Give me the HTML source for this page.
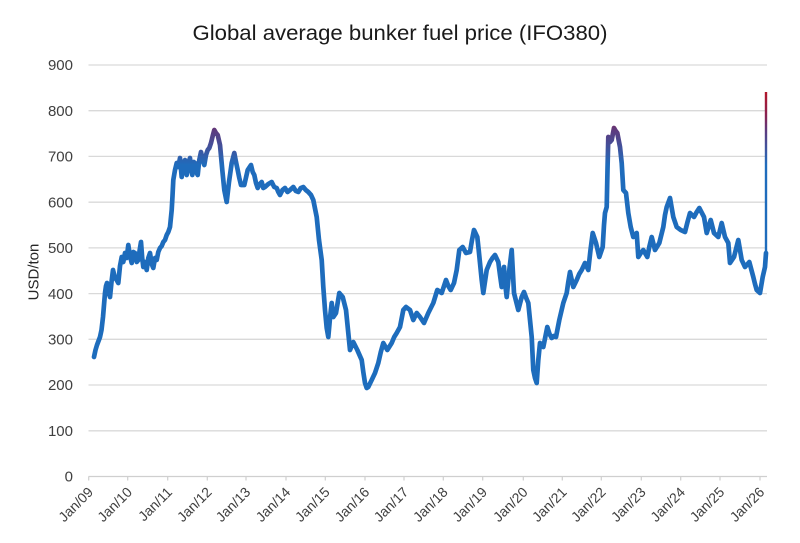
<!DOCTYPE html>
<html>
<head>
<meta charset="utf-8">
<style>
  html,body{margin:0;padding:0;background:#fff;}
  svg{display:block;}
  text{font-family:"Liberation Sans",sans-serif;}
</style>
</head>
<body>
<svg width="800" height="543" viewBox="0 0 800 543" xmlns="http://www.w3.org/2000/svg">
  <defs>
    <linearGradient id="lg" gradientUnits="userSpaceOnUse" x1="0" y1="92" x2="0" y2="476">
      <stop offset="0" stop-color="#b3162a"/>
      <stop offset="0.06" stop-color="#8a2250"/>
      <stop offset="0.10" stop-color="#5d3a7e"/>
      <stop offset="0.15" stop-color="#3d55a0"/>
      <stop offset="0.19" stop-color="#1f6cbc"/>
      <stop offset="1" stop-color="#1c6dbd"/>
    </linearGradient>
  </defs>
  <rect width="800" height="543" fill="#fff"/>
  <text x="400" y="40" text-anchor="middle" font-size="21" fill="#1a1a1a" textLength="415" lengthAdjust="spacingAndGlyphs">Global average bunker fuel price (IFO380)</text>

  <!-- gridlines -->
  <g stroke="#d9d9d9" stroke-width="1.3">
    <line x1="88.5" y1="65.0" x2="767" y2="65.0"/>
    <line x1="88.5" y1="110.7" x2="767" y2="110.7"/>
    <line x1="88.5" y1="156.4" x2="767" y2="156.4"/>
    <line x1="88.5" y1="202.2" x2="767" y2="202.2"/>
    <line x1="88.5" y1="247.9" x2="767" y2="247.9"/>
    <line x1="88.5" y1="293.6" x2="767" y2="293.6"/>
    <line x1="88.5" y1="339.3" x2="767" y2="339.3"/>
    <line x1="88.5" y1="385.0" x2="767" y2="385.0"/>
    <line x1="88.5" y1="430.8" x2="767" y2="430.8"/>
  </g>
  <line x1="88.5" y1="476.5" x2="767" y2="476.5" stroke="#cfcfcf" stroke-width="1.3"/>
  <g stroke="#cfcfcf" stroke-width="1.2">
    <line x1="88.7" y1="476.5" x2="88.7" y2="480.5"/>
    <line x1="127.7" y1="476.5" x2="127.7" y2="480.5"/>
    <line x1="167.7" y1="476.5" x2="167.7" y2="480.5"/>
    <line x1="207.3" y1="476.5" x2="207.3" y2="480.5"/>
    <line x1="246" y1="476.5" x2="246" y2="480.5"/>
    <line x1="286" y1="476.5" x2="286" y2="480.5"/>
    <line x1="325.3" y1="476.5" x2="325.3" y2="480.5"/>
    <line x1="365" y1="476.5" x2="365" y2="480.5"/>
    <line x1="404" y1="476.5" x2="404" y2="480.5"/>
    <line x1="443.3" y1="476.5" x2="443.3" y2="480.5"/>
    <line x1="482.7" y1="476.5" x2="482.7" y2="480.5"/>
    <line x1="523.3" y1="476.5" x2="523.3" y2="480.5"/>
    <line x1="562.3" y1="476.5" x2="562.3" y2="480.5"/>
    <line x1="601.3" y1="476.5" x2="601.3" y2="480.5"/>
    <line x1="641.3" y1="476.5" x2="641.3" y2="480.5"/>
    <line x1="680.7" y1="476.5" x2="680.7" y2="480.5"/>
    <line x1="720" y1="476.5" x2="720" y2="480.5"/>
    <line x1="760" y1="476.5" x2="760" y2="480.5"/>
  </g>

  <!-- y labels -->
  <g font-size="15" fill="#404040" text-anchor="end">
    <text x="73" y="70.2">900</text>
    <text x="73" y="115.9">800</text>
    <text x="73" y="161.6">700</text>
    <text x="73" y="207.4">600</text>
    <text x="73" y="253.1">500</text>
    <text x="73" y="298.8">400</text>
    <text x="73" y="344.5">300</text>
    <text x="73" y="390.2">200</text>
    <text x="73" y="436.0">100</text>
    <text x="73" y="481.7">0</text>
  </g>
  <text transform="translate(38.5,272) rotate(-90)" text-anchor="middle" font-size="15" fill="#262626">USD/ton</text>

  <!-- x labels -->
  <g font-size="14" fill="#404040" text-anchor="end">
    <text transform="translate(94,493) rotate(-45)">Jan/09</text>
    <text transform="translate(133,493) rotate(-45)">Jan/10</text>
    <text transform="translate(173,493) rotate(-45)">Jan/11</text>
    <text transform="translate(212.6,493) rotate(-45)">Jan/12</text>
    <text transform="translate(251.3,493) rotate(-45)">Jan/13</text>
    <text transform="translate(291.3,493) rotate(-45)">Jan/14</text>
    <text transform="translate(330.6,493) rotate(-45)">Jan/15</text>
    <text transform="translate(370.3,493) rotate(-45)">Jan/16</text>
    <text transform="translate(409.3,493) rotate(-45)">Jan/17</text>
    <text transform="translate(448.6,493) rotate(-45)">Jan/18</text>
    <text transform="translate(488,493) rotate(-45)">Jan/19</text>
    <text transform="translate(528.6,493) rotate(-45)">Jan/20</text>
    <text transform="translate(567.6,493) rotate(-45)">Jan/21</text>
    <text transform="translate(606.6,493) rotate(-45)">Jan/22</text>
    <text transform="translate(646.6,493) rotate(-45)">Jan/23</text>
    <text transform="translate(686,493) rotate(-45)">Jan/24</text>
    <text transform="translate(725.3,493) rotate(-45)">Jan/25</text>
    <text transform="translate(765.3,493) rotate(-45)">Jan/26</text>
  </g>

  <!-- series -->
  <polyline fill="none" stroke="url(#lg)" stroke-width="4.7" stroke-linejoin="round" stroke-linecap="round" points="
94,357 95.5,350 97,345 98.5,341 100,337 101.5,330 103,317 104,305 105,293 106,286 107,283 108.5,292 110,297 111.5,282 113,270 115,278 116.7,280 118.3,283 120,266 121.7,257 123.3,262 125,253 126.7,258 128.3,245 130,256 131.7,263 133.3,252 135,253 136.7,262 138.3,260 139.7,250 141,242 142.2,258 143.3,267 145,262 146.7,270 148.3,258 150,253 151.7,264 153.3,268 155,258 156.7,260 158.3,252 160,248 161.7,246 163.3,242 165,240 166.7,235 168.3,232 170,227 171.7,210 172.5,196 173.3,180 175,170 176.7,163 178.3,167 180,158 181.7,177 183.3,164 185,160 186.7,175 188.3,163 190,158 191.2,170 192.3,175 193.7,162 195,163 196.3,172 197.7,175 199.3,160 201,152 202.7,160 204.3,165 206,155 207.7,150 209.3,148 211,143 212.7,136 214.3,130 216,133 217.7,135 220,145 222.3,170 224.3,190 226.7,202 229,182 231.7,163 234.3,153 236,162 237.7,170 239.3,178 241,185 244.3,185 247.7,170 251,165 252.7,172 254.3,175 256,183 257.7,188 259.7,184 261.7,182 263.3,188 265,187 268.3,184 271.7,182 274.2,187 276.7,188 278.3,192 280,195 282.5,190 285,188 287.5,192 290,190 293.3,187 295.8,191 298.3,192 300.8,188 303.3,187 305.8,190 308.3,192 311,195 313.3,200 316.7,217 319,240 321.7,260 323.3,287 325,310 326.7,328 328.3,337 330,318 331.7,303 333.3,317 336,313 339.3,293 342.7,297 346,310 348,330 350,350 353.3,342 357.3,350 361.7,360 363.3,372 365,383 366.7,388 368.3,387 371.7,380 375,373 378.3,363 380.8,352 383.3,343 387.3,350 391.7,343 394.2,337 396.7,333 400,327 403.3,310 406,307 410,310 413.3,320 416.7,313 420,317 424,323 428.3,313 430.8,308 433.3,303 437.3,290 441.7,293 446,280 448.3,286 450.7,290 454,283 456.7,270 459.3,250 462.7,247 466,253 470,252 472,240 474,230 477.3,237 478.7,250 480,263 481.7,280 483.3,293 486.7,270 490,262 492.5,258 495,255 498.3,262 500,275 501.7,287 504,267 505.3,285 506.7,297 509.3,270 511.7,250 514,293 518.3,310 521.7,297 524,292 526.2,298 528.3,303 530,320 531.7,337 533.3,370 535,378 536.7,383 538.3,360 540,343 543.3,347 547.3,327 549.5,334 551.7,338 553.8,336 556,337 559.3,320 563.3,303 566.7,293 568.3,282 570,272 573.3,287 576.7,280 579.2,274 581.7,270 585,263 588.3,270 590.5,250 592.7,233 596,243 599.3,257 602.7,247 604,225 605,213 606.7,207 607.5,170 608.3,137 610,142 611.7,140 614,128 615.7,131 617.3,133 620,147 621.7,163 623.3,190 626,193 628.3,213 630.7,227 633.3,237 636.7,233 638.3,257 640.8,253 643.3,250 647.3,257 649.5,246 651.7,237 655,250 659.3,243 661.3,235 663.3,227 665,215 666.7,207 670,198 673.3,217 676.7,227 680.7,230 685,232 687.5,222 690,213 694,217 696.7,212 699.3,208 704,217 706.7,233 710.7,220 714,233 718.3,237 721.7,223 725,237 728.3,243 730,263 734,257 738.3,240 741.7,260 745,267 749.3,262 753.3,277 755,284 756.7,290 760,293 762.7,277 765,267 766,253"/>
  <line x1="766" y1="258" x2="766" y2="92" stroke="url(#lg)" stroke-width="2.4" stroke-linecap="butt"/>
</svg>
</body>
</html>
